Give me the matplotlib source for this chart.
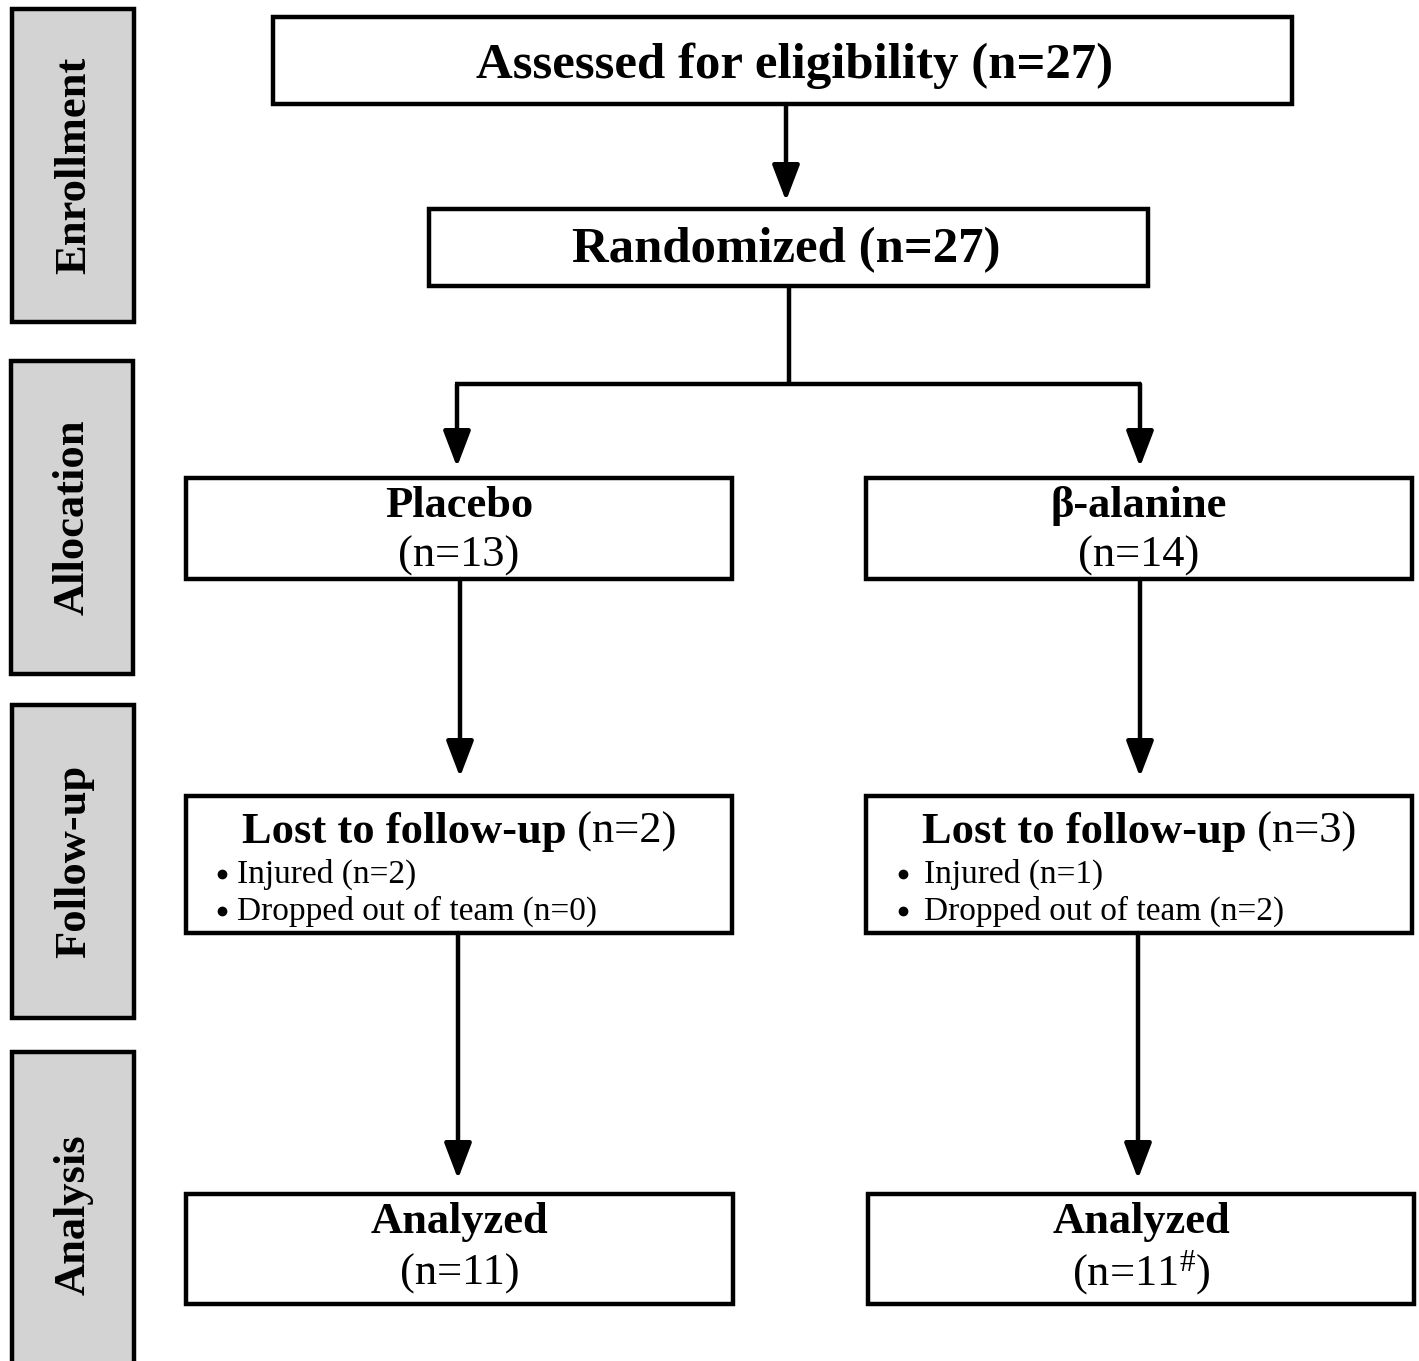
import matplotlib
matplotlib.use("Agg")
import matplotlib.pyplot as plt
from matplotlib.patches import Rectangle

plt.rcParams['font.family'] = ['Liberation Serif', 'DejaVu Serif']
plt.rcParams['mathtext.fontset'] = 'custom'
plt.rcParams['mathtext.rm'] = 'Liberation Serif'
plt.rcParams['mathtext.it'] = 'Liberation Serif:italic'
plt.rcParams['mathtext.bf'] = 'Liberation Serif:bold'

# ---- data ----
stages = ["Enrollment", "Allocation", "Follow-up", "Analysis"]
n_assessed = 27
n_randomized = 27
groups = ["Placebo", "\u03b2-alanine"]
n_allocated = [13, 14]
n_lost = [2, 3]
n_injured = [2, 1]
n_dropped = [0, 2]
n_analyzed = [11, 11]
analyzed_marks = ["", "$^{\\#}$"]

W, H = 1419, 1361
fig = plt.figure(figsize=(W / 100, H / 100), dpi=100)
ax = fig.add_axes([0, 0, 1, 1])
ax.set_xlim(0, W)
ax.set_ylim(H, 0)
ax.axis('off')

LW = 3.2

def box(x0, y0, x1, y1, fc='white'):
    ax.add_patch(Rectangle((x0, y0), x1 - x0, y1 - y0, fc=fc, ec='black', lw=LW, zorder=2))

def arrow(x, y0, y1):
    ax.annotate('', xy=(x, y1), xytext=(x, y0),
                arrowprops=dict(arrowstyle='-|>,head_length=1.1,head_width=0.42',
                                lw=LW, color='black', shrinkA=0, shrinkB=0,
                                mutation_scale=20), zorder=3)

def line(xs, ys):
    ax.plot(xs, ys, color='black', lw=LW, solid_capstyle='butt', zorder=3)

# side stage boxes
side = [(12, 9, 134, 322), (11, 361, 133, 674), (12, 705, 134, 1018), (12, 1052, 134, 1400)]
for (x0, y0, x1, y1), lab in zip(side, stages):
    box(x0, y0, x1, y1, fc='#d3d3d3')
    yc = (y0 + min(y1, H)) / 2 if lab != "Analysis" else 1215
    ax.text((x0 + x1) / 2 + 1, yc, lab, rotation=90, ha='center', va='center',
            fontsize=32, fontweight='bold', zorder=4)

# top boxes
box(273, 17, 1292, 104)
ax.text(795, 78, f"Assessed for eligibility (n={n_assessed})", ha='center', va='baseline',
        fontsize=36.6, fontweight='bold', zorder=4)
arrow(786, 104, 201)
box(429, 209, 1148, 286)
ax.text(786, 262, f"Randomized (n={n_randomized})", ha='center', va='baseline',
        fontsize=36.6, fontweight='bold', zorder=4)

line([789, 789], [286, 384])
line([455, 1141], [384, 384])
arrow(457, 384, 467)
arrow(1140, 384, 467)

# group columns
cols = [(186, 732), (866, 1412)]
arrow_x1 = [460, 1140]
arrow_x2 = [458, 1138]
bullet_x = [222, 903]
bullet_text_x = [237, 924]

fig.canvas.draw()
renderer = fig.canvas.get_renderer()

for i in range(2):
    x0, x1 = cols[i]
    xc = (x0 + x1) / 2
    # allocation box
    box(x0, 478, x1, 579)
    ax.text(xc, 517, groups[i], ha='center', va='baseline', fontsize=32, fontweight='bold', zorder=4)
    ax.text(xc, 567, f"(n={n_allocated[i]})", ha='center', va='baseline', fontsize=32, zorder=4)
    arrow(arrow_x1[i], 579, 777)
    # follow-up box
    box(x0, 796, x1, 933)
    t1 = ax.text(0, 843, "Lost to follow-up", ha='left', va='baseline', fontsize=32,
                 fontweight='bold', zorder=4)
    t2 = ax.text(0, 843, f" (n={n_lost[i]})", ha='left', va='baseline', fontsize=32, zorder=4)
    inv = ax.transData.inverted()
    def width(t):
        bb = t.get_window_extent(renderer)
        p0 = inv.transform((bb.x0, bb.y0)); p1 = inv.transform((bb.x1, bb.y0))
        return p1[0] - p0[0]
    w1, w2 = width(t1), width(t2)
    start = xc - (w1 + w2) / 2
    t1.set_x(start)
    t2.set_x(start + w1)
    for yb, txt in [(883, f"Injured (n={n_injured[i]})"),
                    (920, f"Dropped out of team (n={n_dropped[i]})")]:
        ax.plot([bullet_x[i]], [yb - 9], 'o', color='black', ms=6, zorder=4)
        ax.text(bullet_text_x[i], yb, txt, ha='left', va='baseline', fontsize=24, zorder=4)
    arrow(arrow_x2[i], 933, 1179)
    # analysis box
    ax0 = x0 if i == 0 else 868
    ax1 = 733 if i == 0 else 1414
    box(ax0, 1194, ax1, 1304)
    axc = (ax0 + ax1) / 2
    ax.text(axc, 1233, "Analyzed", ha='center', va='baseline', fontsize=32, fontweight='bold', zorder=4)
    ax.text(axc, 1285, f"(n={n_analyzed[i]}{analyzed_marks[i]})", ha='center', va='baseline',
            fontsize=32, zorder=4)

fig.savefig("out.png", dpi=100, facecolor='white')
